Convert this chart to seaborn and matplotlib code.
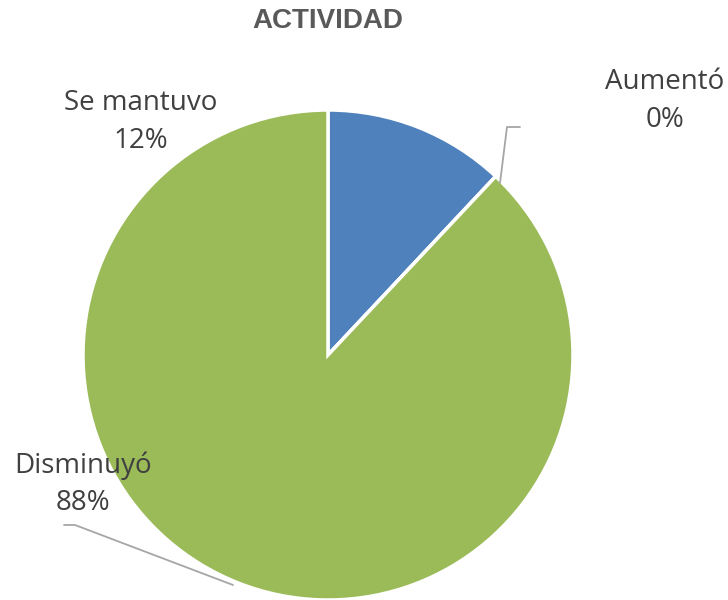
import matplotlib
matplotlib.use("Agg")
import matplotlib.pyplot as plt
import seaborn as sns

# =========================
# DATA
# =========================
categorias = ["Se mantuvo", "Aumentó", "Disminuyó"]
valores = [12, 0, 88]
colores = ["#4F81BD", "#C0504D", "#9BBB59"]
titulo = "ACTIVIDAD"

# =========================
# STYLE
# =========================
sns.set_theme(style="white")
plt.rcParams['font.family'] = ['Open Sans', 'DejaVu Sans']

W, H = 728, 600
fig = plt.figure(figsize=(W / 100, H / 100), dpi=100)
ax = fig.add_axes([0, 0, 1, 1])

# pie centre and radius in pixel units (y measured from bottom)
cx, cy, r = 328, H - 355, 245

ax.pie(
    valores,
    colors=colores,
    startangle=90,
    counterclock=False,
    center=(cx, cy),
    radius=r,
    wedgeprops=dict(edgecolor="white", linewidth=2.5),
    frame=True,
)
ax.set_xlim(0, W)
ax.set_ylim(0, H)
ax.set_aspect("equal")
ax.axis("off")

# =========================
# LABELS
# =========================
texto = "#404040"
posiciones = {
    "Se mantuvo": (141, 122),
    "Aumentó": (665, 101),
    "Disminuyó": (83, 484),
}
for cat, val in zip(categorias, valores):
    x, y = posiciones[cat]
    ax.text(x, H - y, f"{cat}\n{val}%", ha="center", va="center",
            fontsize=20, color=texto, linespacing=1.45)

# leader lines
ax.plot([500, 507, 520], [H - 183, H - 127, H - 127], color="#A6A6A6", lw=1.3)
ax.plot([64, 75, 233], [H - 525, H - 525, H - 585], color="#A6A6A6", lw=1.3)

fig.text(328 / W, 1 - 21 / H, titulo, ha="center", va="center",
         fontsize=20, fontweight="bold", color="#595959",
         family=["Liberation Sans", "DejaVu Sans"])

fig.savefig("out.png", dpi=100)
